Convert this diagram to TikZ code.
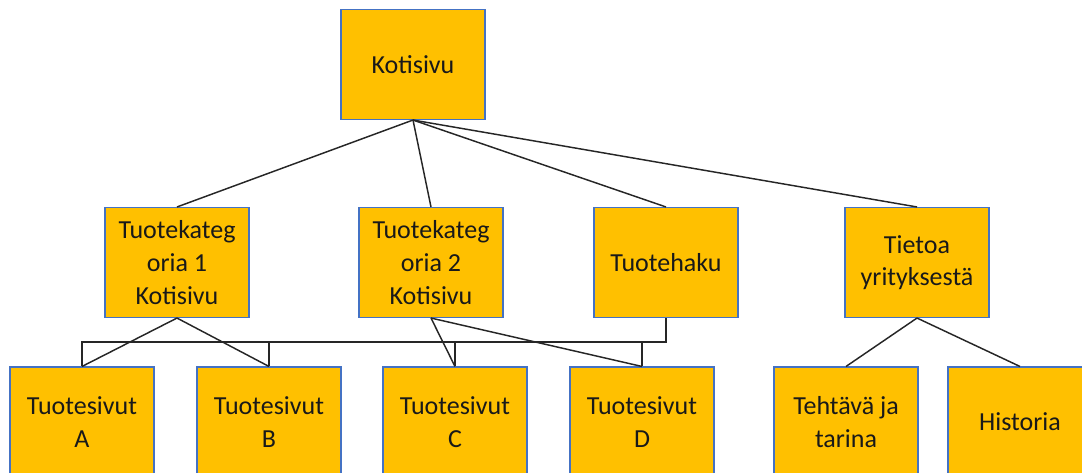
\documentclass[tikz,border=0pt]{standalone}
\usepackage{fontspec}
\setmainfont{Carlito}
\usetikzlibrary{calc}
\definecolor{boxfill}{HTML}{FFC000}
\definecolor{boxline}{HTML}{4472C4}
\tikzset{
	page/.style={fill=boxfill,draw=boxline,line width=0.8pt,minimum width=108pt,minimum height=82.5pt,inner sep=2pt,align=center,text=black!90,font=\fontsize{19.5}{24.5}\selectfont},
	link/.style={draw=black!85,line width=1.1pt}
}
\begin{document}
\begin{tikzpicture}[x=0.75pt,y=-0.75pt]
	\useasboundingbox (0,0) rectangle (1082,472);

	\node[page] (koti) at (413,64.5) {Kotisivu};
	\node[page] (kat1) at (177,262.5) {Tuotekateg\\oria 1\\Kotisivu};
	\node[page] (kat2) at (431,262.5) {Tuotekateg\\oria 2\\Kotisivu};
	\node[page] (haku) at (666,262.5) {Tuotehaku};
	\node[page] (tietoa) at (917,262.5) {Tietoa\\yrityksestä};

	\node[page] (a) at (82,422) {Tuotesivut\\A};
	\node[page] (b) at (269,422) {Tuotesivut\\B};
	\node[page] (c) at (455,422) {Tuotesivut\\C};
	\node[page] (d) at (642,422) {Tuotesivut\\D};
	\node[page] (tehtava) at (846,422) {Tehtävä ja\\tarina};
	\node[page] (historia) at (1020,422) {Historia};

	\foreach \n in {kat1,kat2,haku,tietoa}
		\path[link] (koti.south) to (\n.north);
	\path[link] (kat1.south) to (a.north);
	\path[link] (kat1.south) to (b.north);
	\path[link] (kat2.south) to (c.north);
	\path[link] (kat2.south) to (d.north);
	\path[link] (tietoa.south) to (tehtava.north);
	\path[link] (tietoa.south) to (historia.north);

	\coordinate (bar) at (666,342);
	\path[link] (haku.south) -- (bar) -- (bar -| a.north) -- (a.north);
	\foreach \n in {b,c,d}
		\path[link] (bar -| \n.north) to (\n.north);

\end{tikzpicture}
\end{document}
